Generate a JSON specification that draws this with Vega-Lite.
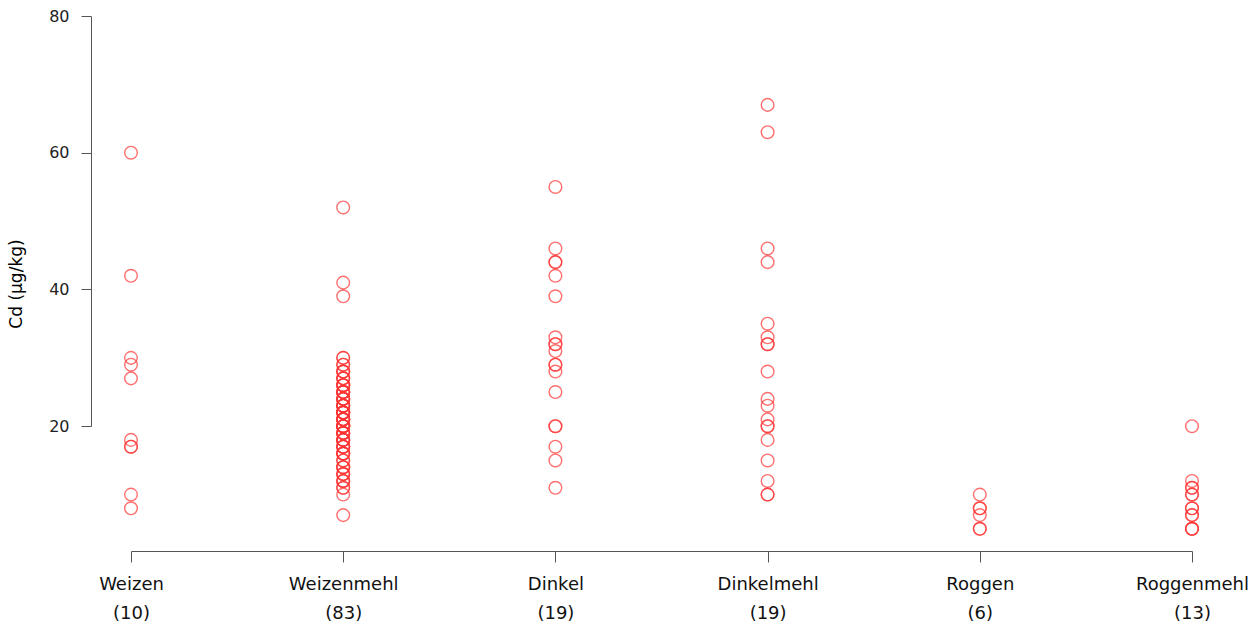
{
  "$schema": "https://vega.github.io/schema/vega-lite/v6.json",
  "width": 1061,
  "height": 535,
  "autosize": {"type": "none"},
  "padding": {"left": 131, "top": 16, "right": 68, "bottom": 77},
  "background": "white",
  "config": {"view": {"stroke": null}, "font": "DejaVu Sans"},
  "data": {
    "values": [
      {"sorte": "Weizen (10)", "cd": 60},
      {"sorte": "Weizen (10)", "cd": 42},
      {"sorte": "Weizen (10)", "cd": 30},
      {"sorte": "Weizen (10)", "cd": 29},
      {"sorte": "Weizen (10)", "cd": 27},
      {"sorte": "Weizen (10)", "cd": 18},
      {"sorte": "Weizen (10)", "cd": 17},
      {"sorte": "Weizen (10)", "cd": 17},
      {"sorte": "Weizen (10)", "cd": 10},
      {"sorte": "Weizen (10)", "cd": 8},

      {"sorte": "Weizenmehl (83)", "cd": 52},
      {"sorte": "Weizenmehl (83)", "cd": 41},
      {"sorte": "Weizenmehl (83)", "cd": 39},
      {"sorte": "Weizenmehl (83)", "cd": 30},
      {"sorte": "Weizenmehl (83)", "cd": 30},
      {"sorte": "Weizenmehl (83)", "cd": 29},
      {"sorte": "Weizenmehl (83)", "cd": 29},
      {"sorte": "Weizenmehl (83)", "cd": 28},
      {"sorte": "Weizenmehl (83)", "cd": 28},
      {"sorte": "Weizenmehl (83)", "cd": 28},
      {"sorte": "Weizenmehl (83)", "cd": 27},
      {"sorte": "Weizenmehl (83)", "cd": 27},
      {"sorte": "Weizenmehl (83)", "cd": 27},
      {"sorte": "Weizenmehl (83)", "cd": 26},
      {"sorte": "Weizenmehl (83)", "cd": 26},
      {"sorte": "Weizenmehl (83)", "cd": 26},
      {"sorte": "Weizenmehl (83)", "cd": 26},
      {"sorte": "Weizenmehl (83)", "cd": 25},
      {"sorte": "Weizenmehl (83)", "cd": 25},
      {"sorte": "Weizenmehl (83)", "cd": 25},
      {"sorte": "Weizenmehl (83)", "cd": 25},
      {"sorte": "Weizenmehl (83)", "cd": 25},
      {"sorte": "Weizenmehl (83)", "cd": 24},
      {"sorte": "Weizenmehl (83)", "cd": 24},
      {"sorte": "Weizenmehl (83)", "cd": 24},
      {"sorte": "Weizenmehl (83)", "cd": 24},
      {"sorte": "Weizenmehl (83)", "cd": 24},
      {"sorte": "Weizenmehl (83)", "cd": 23},
      {"sorte": "Weizenmehl (83)", "cd": 23},
      {"sorte": "Weizenmehl (83)", "cd": 23},
      {"sorte": "Weizenmehl (83)", "cd": 23},
      {"sorte": "Weizenmehl (83)", "cd": 23},
      {"sorte": "Weizenmehl (83)", "cd": 22},
      {"sorte": "Weizenmehl (83)", "cd": 22},
      {"sorte": "Weizenmehl (83)", "cd": 22},
      {"sorte": "Weizenmehl (83)", "cd": 22},
      {"sorte": "Weizenmehl (83)", "cd": 22},
      {"sorte": "Weizenmehl (83)", "cd": 22},
      {"sorte": "Weizenmehl (83)", "cd": 21},
      {"sorte": "Weizenmehl (83)", "cd": 21},
      {"sorte": "Weizenmehl (83)", "cd": 21},
      {"sorte": "Weizenmehl (83)", "cd": 21},
      {"sorte": "Weizenmehl (83)", "cd": 21},
      {"sorte": "Weizenmehl (83)", "cd": 21},
      {"sorte": "Weizenmehl (83)", "cd": 20},
      {"sorte": "Weizenmehl (83)", "cd": 20},
      {"sorte": "Weizenmehl (83)", "cd": 20},
      {"sorte": "Weizenmehl (83)", "cd": 20},
      {"sorte": "Weizenmehl (83)", "cd": 20},
      {"sorte": "Weizenmehl (83)", "cd": 20},
      {"sorte": "Weizenmehl (83)", "cd": 19},
      {"sorte": "Weizenmehl (83)", "cd": 19},
      {"sorte": "Weizenmehl (83)", "cd": 19},
      {"sorte": "Weizenmehl (83)", "cd": 19},
      {"sorte": "Weizenmehl (83)", "cd": 19},
      {"sorte": "Weizenmehl (83)", "cd": 18},
      {"sorte": "Weizenmehl (83)", "cd": 18},
      {"sorte": "Weizenmehl (83)", "cd": 18},
      {"sorte": "Weizenmehl (83)", "cd": 18},
      {"sorte": "Weizenmehl (83)", "cd": 18},
      {"sorte": "Weizenmehl (83)", "cd": 17},
      {"sorte": "Weizenmehl (83)", "cd": 17},
      {"sorte": "Weizenmehl (83)", "cd": 17},
      {"sorte": "Weizenmehl (83)", "cd": 17},
      {"sorte": "Weizenmehl (83)", "cd": 16},
      {"sorte": "Weizenmehl (83)", "cd": 16},
      {"sorte": "Weizenmehl (83)", "cd": 16},
      {"sorte": "Weizenmehl (83)", "cd": 16},
      {"sorte": "Weizenmehl (83)", "cd": 15},
      {"sorte": "Weizenmehl (83)", "cd": 15},
      {"sorte": "Weizenmehl (83)", "cd": 14},
      {"sorte": "Weizenmehl (83)", "cd": 14},
      {"sorte": "Weizenmehl (83)", "cd": 14},
      {"sorte": "Weizenmehl (83)", "cd": 13},
      {"sorte": "Weizenmehl (83)", "cd": 13},
      {"sorte": "Weizenmehl (83)", "cd": 13},
      {"sorte": "Weizenmehl (83)", "cd": 12},
      {"sorte": "Weizenmehl (83)", "cd": 12},
      {"sorte": "Weizenmehl (83)", "cd": 12},
      {"sorte": "Weizenmehl (83)", "cd": 11},
      {"sorte": "Weizenmehl (83)", "cd": 11},
      {"sorte": "Weizenmehl (83)", "cd": 10},
      {"sorte": "Weizenmehl (83)", "cd": 7},

      {"sorte": "Dinkel (19)", "cd": 55},
      {"sorte": "Dinkel (19)", "cd": 46},
      {"sorte": "Dinkel (19)", "cd": 44},
      {"sorte": "Dinkel (19)", "cd": 44},
      {"sorte": "Dinkel (19)", "cd": 42},
      {"sorte": "Dinkel (19)", "cd": 39},
      {"sorte": "Dinkel (19)", "cd": 33},
      {"sorte": "Dinkel (19)", "cd": 32},
      {"sorte": "Dinkel (19)", "cd": 32},
      {"sorte": "Dinkel (19)", "cd": 31},
      {"sorte": "Dinkel (19)", "cd": 29},
      {"sorte": "Dinkel (19)", "cd": 29},
      {"sorte": "Dinkel (19)", "cd": 28},
      {"sorte": "Dinkel (19)", "cd": 25},
      {"sorte": "Dinkel (19)", "cd": 20},
      {"sorte": "Dinkel (19)", "cd": 20},
      {"sorte": "Dinkel (19)", "cd": 17},
      {"sorte": "Dinkel (19)", "cd": 15},
      {"sorte": "Dinkel (19)", "cd": 11},

      {"sorte": "Dinkelmehl (19)", "cd": 67},
      {"sorte": "Dinkelmehl (19)", "cd": 63},
      {"sorte": "Dinkelmehl (19)", "cd": 46},
      {"sorte": "Dinkelmehl (19)", "cd": 44},
      {"sorte": "Dinkelmehl (19)", "cd": 35},
      {"sorte": "Dinkelmehl (19)", "cd": 33},
      {"sorte": "Dinkelmehl (19)", "cd": 32},
      {"sorte": "Dinkelmehl (19)", "cd": 32},
      {"sorte": "Dinkelmehl (19)", "cd": 28},
      {"sorte": "Dinkelmehl (19)", "cd": 24},
      {"sorte": "Dinkelmehl (19)", "cd": 23},
      {"sorte": "Dinkelmehl (19)", "cd": 21},
      {"sorte": "Dinkelmehl (19)", "cd": 20},
      {"sorte": "Dinkelmehl (19)", "cd": 20},
      {"sorte": "Dinkelmehl (19)", "cd": 18},
      {"sorte": "Dinkelmehl (19)", "cd": 15},
      {"sorte": "Dinkelmehl (19)", "cd": 12},
      {"sorte": "Dinkelmehl (19)", "cd": 10},
      {"sorte": "Dinkelmehl (19)", "cd": 10},

      {"sorte": "Roggen (6)", "cd": 10},
      {"sorte": "Roggen (6)", "cd": 8},
      {"sorte": "Roggen (6)", "cd": 8},
      {"sorte": "Roggen (6)", "cd": 7},
      {"sorte": "Roggen (6)", "cd": 5},
      {"sorte": "Roggen (6)", "cd": 5},

      {"sorte": "Roggenmehl (13)", "cd": 20},
      {"sorte": "Roggenmehl (13)", "cd": 12},
      {"sorte": "Roggenmehl (13)", "cd": 11},
      {"sorte": "Roggenmehl (13)", "cd": 11},
      {"sorte": "Roggenmehl (13)", "cd": 10},
      {"sorte": "Roggenmehl (13)", "cd": 10},
      {"sorte": "Roggenmehl (13)", "cd": 8},
      {"sorte": "Roggenmehl (13)", "cd": 8},
      {"sorte": "Roggenmehl (13)", "cd": 7},
      {"sorte": "Roggenmehl (13)", "cd": 7},
      {"sorte": "Roggenmehl (13)", "cd": 5},
      {"sorte": "Roggenmehl (13)", "cd": 5},
      {"sorte": "Roggenmehl (13)", "cd": 5}
    ]
  },
  "mark": {
    "type": "point",
    "shape": "circle",
    "filled": false,
    "size": 160,
    "strokeWidth": 1.4,
    "color": "#ff3333",
    "opacity": 0.7
  },
  "encoding": {
    "x": {
      "field": "sorte",
      "type": "nominal",
      "sort": null,
      "scale": {"type": "point", "padding": 0},
      "axis": {
        "title": null,
        "labelAngle": 0,
        "labelExpr": "split(datum.label, ' ')",
        "labelFont": "DejaVu Sans",
        "labelFontSize": 18,
        "labelLineHeight": 29,
        "labelPadding": 13,
        "labelOverlap": false,
        "labelColor": "#111111",
        "tickSize": 11,
        "tickColor": "#555555",
        "domainColor": "#555555",
        "grid": false
      }
    },
    "y": {
      "field": "cd",
      "type": "quantitative",
      "scale": {"domain": [1.75, 80], "nice": false, "zero": false},
      "axis": {
        "title": "Cd (µg/kg)",
        "values": [20, 40, 60, 80],
        "offset": 40,
        "grid": false,
        "tickSize": 10,
        "tickColor": "#555555",
        "domainColor": "#555555",
        "domainDash": [0, 125, 410, 1000],
        "labelPadding": 12,
        "labelFont": "DejaVu Sans",
        "labelFontSize": 16,
        "labelColor": "#222222",
        "titleFont": "DejaVu Sans",
        "titleFontSize": 17,
        "titleFontWeight": "normal",
        "titleColor": "#000000",
        "titlePadding": 23
      }
    }
  }
}
